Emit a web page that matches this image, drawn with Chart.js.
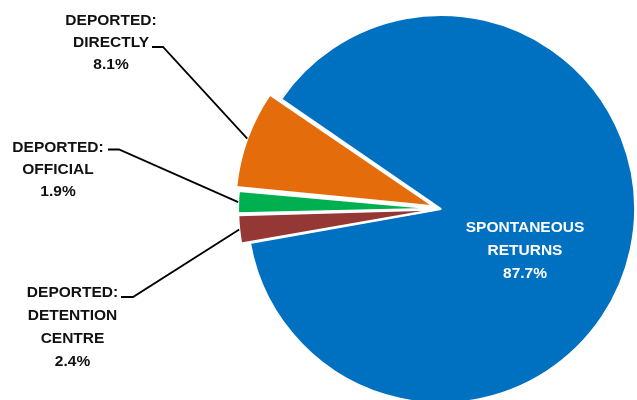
<!DOCTYPE html>
<html>
<head>
<meta charset="utf-8">
<script src="https://cdn.jsdelivr.net/npm/chart.js@4.4.0/dist/chart.umd.min.js"></script>
<style>
  html, body { margin: 0; padding: 0; background: #fff; overflow: hidden; }
  #wrap { position: relative; width: 637px; height: 418px; }
</style>
</head>
<body>
<div id="wrap"><canvas id="chartPie"></canvas></div>
<script>
// Données (ordre horaire à partir du bord haut de la part bleue)
const LABELS = ['SPONTANEOUS RETURNS', 'DEPORTED: DETENTION CENTRE', 'DEPORTED: OFFICIAL', 'DEPORTED: DIRECTLY'];
const VALUES = [87.7, 2.4, 1.9, 8.1];
const LABEL_LINES = [
  ['SPONTANEOUS', 'RETURNS'],
  ['DEPORTED:', 'DETENTION', 'CENTRE'],
  ['DEPORTED:', 'OFFICIAL'],
  ['DEPORTED:', 'DIRECTLY']
];
const COLORS = ['#0070C0', '#953735', '#00B050', '#E46C0A'];
const OFFSETS = [0, 19, 19, 32];

// Placement des étiquettes (x centre, baseline première ligne, interligne, trait horizontal)
const LABEL_POS = [
  { x: 525, y: 232, lh: 23, color: '#fff' },
  { x: 72.5, y: 297, lh: 23, color: '#111' },
  { x: 58, y: 151.5, lh: 22, color: '#111' },
  { x: 111, y: 24.5, lh: 22, color: '#111' }
];
const TICKS = [null, [121, 133, 297], [108, 119, 149.5], [152, 163, 47]];

const FONT = 'bold 15.5px "Liberation Sans", Arial, sans-serif';

const labelsPlugin = {
  id: 'pieLabels',
  afterDatasetsDraw(chart) {
    const ctx = chart.ctx;
    const meta = chart.getDatasetMeta(0);
    ctx.save();
    ctx.font = FONT;
    ctx.textAlign = 'center';
    ctx.textBaseline = 'alphabetic';
    meta.data.forEach((arc, i) => {
      const pos = LABEL_POS[i];
      const tick = TICKS[i];
      const lines = [...LABEL_LINES[i], VALUES[i].toFixed(1) + '%'];
      // trait de rappel vers le milieu de l'arc
      if (tick) {
        const off = (OFFSETS[i] || 0) / 4;
        const circ = arc.endAngle - arc.startAngle;
        const fix = 1 - Math.sin(Math.min(Math.PI, circ));
        const mid = (arc.startAngle + arc.endAngle) / 2;
        const r = arc.outerRadius + off + off * fix;
        const ex = arc.x + Math.cos(mid) * r;
        const ey = arc.y + Math.sin(mid) * r;
        ctx.strokeStyle = '#000';
        ctx.lineWidth = 1.8;
        ctx.beginPath();
        ctx.moveTo(tick[0], tick[2]);
        ctx.lineTo(tick[1], tick[2]);
        ctx.lineTo(ex, ey);
        ctx.stroke();
      }
      ctx.fillStyle = pos.color;
      lines.forEach((t, k) => ctx.fillText(t, pos.x, pos.y + k * pos.lh));
    });
    ctx.restore();
  }
};

new Chart(document.getElementById('chartPie'), {
  type: 'pie',
  data: {
    labels: LABELS,
    datasets: [{
      data: VALUES,
      backgroundColor: COLORS,
      borderColor: '#ffffff',
      borderWidth: 2,
      offset: OFFSETS,
      hoverOffset: 0
    }]
  },
  options: {
    responsive: true,
    maintainAspectRatio: false,
    animation: false,
    events: [],
    rotation: -55.5,
    radius: 194,
    layout: { padding: { left: 247, right: 2, top: 15, bottom: 15 } },
    plugins: {
      legend: { display: false },
      tooltip: { enabled: false }
    }
  },
  plugins: [labelsPlugin]
});
</script>
</body>
</html>
